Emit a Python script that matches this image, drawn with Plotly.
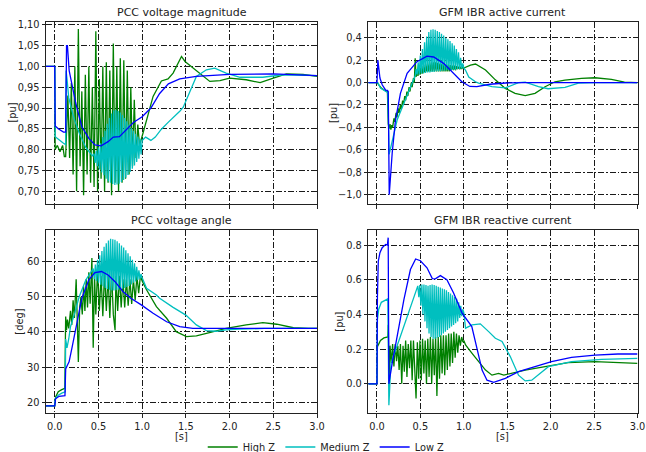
import numpy as np
import plotly.graph_objects as go

# ---------------- data ----------------
LABELS = ["High Z", "Medium Z", "Low Z"]
COLORS = ["#008000", "#00bfbf", "#0000ff"]

# ---- PCC voltage magnitude [pu] ----
vm_green_pre_t = [-0.1, 0.0, 0.005, 0.03, 0.06, 0.09, 0.11, 0.125]
vm_green_pre_v = [1.0, 1.0, 0.80, 0.81, 0.795, 0.81, 0.783, 0.783]
vm_green_osc_span = [0.15, 0.97]
vm_green_osc_v = [0.93, 0.78, 0.96, 0.74, 1.00, 0.70, 1.09, 0.76, 0.94, 0.69, 0.98, 0.74,
                  1.00, 0.72, 0.95, 0.71, 1.085, 0.70, 0.97, 0.73, 1.00, 0.70, 1.01, 0.72,
                  0.99, 0.69, 1.055, 0.72, 1.00, 0.70, 1.02, 0.72, 1.015, 0.73, 0.99, 0.74,
                  0.95, 0.76, 0.92, 0.78, 0.86, 0.81]
vm_green_post_t = [1.01, 1.03, 1.125, 1.22, 1.296, 1.354, 1.45, 1.49, 1.66, 1.774, 1.89,
                   2.0, 2.19, 2.35, 2.5, 2.65, 2.84, 3.0]
vm_green_post_v = [0.84, 0.855, 0.928, 0.965, 0.97, 0.984, 1.024, 1.012, 0.982, 0.964, 0.966,
                   0.972, 0.968, 0.961, 0.972, 0.982, 0.981, 0.976]

vm_cyan_pre_t = [-0.1, 0.0, 0.005, 0.05, 0.1, 0.125, 0.13, 0.14, 0.16, 0.183, 0.22, 0.28, 0.355, 0.43]
vm_cyan_pre_v = [1.0, 1.0, 0.831, 0.823, 0.815, 0.812, 0.99, 0.97, 0.925, 0.905, 0.875, 0.84, 0.805, 0.785]
vm_cyan_osc_span = [0.45, 1.0]
vm_cyan_osc_v = [0.790, 0.768, 0.797, 0.760, 0.805, 0.752, 0.815, 0.745, 0.830, 0.738, 0.845,
                 0.730, 0.862, 0.724, 0.876, 0.720, 0.887, 0.717, 0.894, 0.715, 0.896, 0.716,
                 0.893, 0.718, 0.889, 0.722, 0.883, 0.727, 0.876, 0.732, 0.868, 0.739, 0.860,
                 0.746, 0.852, 0.754, 0.845, 0.762, 0.838, 0.770, 0.831, 0.778, 0.826, 0.788, 0.822]
vm_cyan_post_t = [1.04, 1.1, 1.15, 1.22, 1.3, 1.354, 1.43, 1.47, 1.545, 1.62, 1.735, 1.83,
                  1.96, 2.12, 2.38, 2.61, 3.0]
vm_cyan_post_v = [0.83, 0.822, 0.83, 0.849, 0.866, 0.876, 0.892, 0.902, 0.94, 0.976, 0.992, 0.996,
                  0.984, 0.974, 0.974, 0.98, 0.978]

vm_blue_t = [-0.1, 0.0, 0.005, 0.04, 0.1, 0.125, 0.135, 0.145, 0.165, 0.24, 0.31, 0.39, 0.46,
             0.53, 0.61, 0.67, 0.74, 0.82, 0.9, 1.0, 1.1, 1.2, 1.3, 1.43, 1.62, 2.0, 2.5, 3.0]
vm_blue_v = [1.0, 1.0, 0.857, 0.85, 0.842, 0.842, 1.05, 1.05, 0.99, 0.912, 0.855, 0.827, 0.811,
             0.809, 0.819, 0.83, 0.831, 0.847, 0.865, 0.879, 0.90, 0.935, 0.958, 0.970, 0.976,
             0.981, 0.982, 0.978]

# ---- PCC voltage angle [deg] ----
va_green_pre_t = [-0.1, 0.0, 0.01, 0.04, 0.08, 0.115]
va_green_pre_v = [19.0, 19.0, 21.5, 23.0, 23.6, 24.0]
va_green_osc_t = [0.125, 0.135, 0.145, 0.16, 0.18, 0.195, 0.21, 0.225, 0.245, 0.26, 0.27, 0.285,
                  0.30, 0.315, 0.33, 0.345, 0.36, 0.375, 0.39, 0.405, 0.425, 0.44, 0.455, 0.47,
                  0.49, 0.51, 0.53, 0.55, 0.57, 0.59, 0.61, 0.63, 0.65, 0.67, 0.69, 0.70, 0.72,
                  0.74, 0.76, 0.78, 0.80, 0.82, 0.84, 0.86, 0.88, 0.90, 0.92, 0.94, 0.96, 0.98, 1.0]
va_green_osc_v = [44.4, 40.5, 43.5, 41, 46, 42, 49, 44, 55, 44, 31.5, 47, 50, 45, 53, 46, 55, 47,
                  57, 48, 61, 35.5, 56, 45, 58, 46, 56, 44.5, 57, 46, 56, 44, 57, 45, 40.5, 56, 46,
                  56, 47, 55, 47, 55, 47.5, 55, 48, 55, 49, 56, 51, 56, 54.5]
va_green_post_t = [1.05, 1.163, 1.28, 1.39, 1.506, 1.62, 1.77, 1.96, 2.19, 2.38, 2.54, 2.73, 2.9, 3.0]
va_green_post_v = [52.0, 47.2, 43.9, 40.1, 38.7, 38.9, 39.8, 41.0, 42.0, 42.65, 42.2, 41.2, 41.0, 41.0]

va_cyan_pre_t = [-0.1, 0.0, 0.005, 0.04, 0.08, 0.12, 0.125, 0.14, 0.16, 0.18, 0.23, 0.28, 0.355, 0.42]
va_cyan_pre_v = [19.0, 19.0, 21.0, 22.0, 22.6, 23.0, 38.0, 35.5, 38.0, 41.5, 45.5, 50.0, 54.8, 57.0]
va_cyan_osc_span = [0.44, 1.0]
va_cyan_osc_v = [58.0, 55.0, 59.2, 54.5, 60.5, 54.0, 61.8, 53.4, 63.0, 53.0, 64.2, 52.5, 65.2,
                 52.2, 66.0, 52.0, 66.5, 51.8, 66.4, 51.8, 66.2, 51.9, 65.8, 52.0, 65.2, 52.1,
                 64.6, 52.3, 64.0, 52.5, 63.2, 52.8, 62.4, 53.1, 61.5, 53.5, 60.5, 54.0, 59.5,
                 54.4, 58.5, 54.8, 57.5, 55.1, 56.5, 55.4]
va_cyan_post_t = [1.05, 1.163, 1.2, 1.354, 1.5, 1.62, 1.735, 1.85, 1.96, 2.12, 2.4, 3.0]
va_cyan_post_v = [52.4, 50.5, 49.6, 47.0, 44.8, 42.0, 40.4, 40.2, 40.6, 40.8, 41.0, 41.0]

va_blue_t = [-0.1, 0.0, 0.01, 0.05, 0.117, 0.125, 0.15, 0.164, 0.2, 0.256, 0.31, 0.39, 0.46,
             0.535, 0.61, 0.69, 0.78, 0.87, 0.99, 1.125, 1.28, 1.43, 1.58, 1.8, 2.2, 3.0]
va_blue_v = [19.0, 19.0, 21.0, 21.7, 21.9, 29.5, 30.8, 31.5, 35.8, 43.4, 49.6, 54.8, 56.9, 57.2,
             56.2, 54.3, 51.5, 49.6, 47.7, 45.3, 42.9, 41.5, 41.05, 41.0, 41.0, 41.0]

# ---- GFM IBR active current [pu] ----
ia_green_pre_t = [-0.1, 0.0, 0.01, 0.05, 0.1, 0.12]
ia_green_pre_v = [0.0, 0.0, -0.01, -0.05, -0.075, -0.08]
ia_green_osc_t = [0.13, 0.14, 0.15, 0.16, 0.17, 0.18, 0.195, 0.205, 0.22, 0.23, 0.245, 0.255,
                  0.27, 0.28, 0.295, 0.305, 0.32, 0.33, 0.345, 0.355, 0.37, 0.38, 0.395, 0.405,
                  0.42, 0.43, 0.44, 0.45]
ia_green_osc_v = [-0.37, -0.41, -0.37, -0.42, -0.38, -0.40, -0.32, -0.35, -0.27, -0.31, -0.23,
                  -0.27, -0.20, -0.24, -0.16, -0.20, -0.12, -0.16, -0.08, -0.12, -0.04, -0.08,
                  0.0, -0.04, 0.04, 0.0, 0.216, 0.05]
ia_green_band_span = [0.46, 1.0]
ia_green_band_v = [0.10, 0.06, 0.12, 0.07, 0.14, 0.08, 0.15, 0.09, 0.16, 0.10, 0.17, 0.10, 0.18,
                   0.10, 0.18, 0.10, 0.18, 0.10, 0.18, 0.10, 0.175, 0.10, 0.17, 0.10, 0.17, 0.10,
                   0.165, 0.10, 0.16, 0.10, 0.16, 0.10, 0.155, 0.11, 0.15, 0.11, 0.15, 0.11,
                   0.145, 0.12, 0.14, 0.12, 0.14, 0.12, 0.14, 0.13]
ia_green_post_t = [1.077, 1.134, 1.25, 1.363, 1.478, 1.59, 1.707, 1.82, 1.936, 2.05, 2.165,
                   2.355, 2.51, 2.7, 2.85, 3.0]
ia_green_post_v = [0.156, 0.165, 0.112, 0.024, -0.052, -0.096, -0.117, -0.096, -0.037, 0.007,
                   0.022, 0.038, 0.043, 0.029, 0.003, 0.0]

ia_cyan_pre_t = [-0.1, 0.0, 0.01, 0.04, 0.08, 0.115, 0.125, 0.14, 0.175, 0.232, 0.31, 0.385, 0.44]
ia_cyan_pre_v = [0.0, 0.0, 0.0, -0.05, -0.07, -0.08, -0.09, -0.64, -0.513, -0.334, -0.185, -0.037, 0.06]
ia_cyan_osc_span = [0.45, 1.0]
ia_cyan_osc_v = [0.12, 0.07, 0.18, 0.075, 0.24, 0.08, 0.30, 0.08, 0.36, 0.085, 0.41, 0.09, 0.45,
                 0.09, 0.47, 0.095, 0.475, 0.095, 0.47, 0.10, 0.46, 0.10, 0.45, 0.10, 0.435,
                 0.105, 0.42, 0.105, 0.40, 0.11, 0.385, 0.11, 0.37, 0.11, 0.35, 0.115, 0.33,
                 0.115, 0.30, 0.12, 0.27, 0.12, 0.22, 0.125, 0.17, 0.13]
ia_cyan_post_t = [1.02, 1.057, 1.134, 1.17, 1.324, 1.478, 1.63, 1.707, 1.86, 1.97, 2.165, 2.32, 2.5, 3.0]
ia_cyan_post_v = [0.11, 0.05, 0.007, -0.005, -0.036, -0.048, 0.0, 0.003, -0.036, -0.055, -0.043,
                  -0.005, 0.0, 0.0]

ia_blue_t = [-0.1, 0.0, 0.01, 0.034, 0.06, 0.1, 0.12, 0.13, 0.141, 0.175, 0.213, 0.27, 0.347,
             0.46, 0.576, 0.653, 0.767, 0.88, 0.977, 1.07, 1.15, 1.3, 1.478, 1.7, 2.0, 2.5, 3.0]
ia_blue_v = [0.0, 0.0, 0.2, 0.04, -0.02, -0.067, -0.07, -0.08, -1.0, -0.63, -0.334, -0.096, 0.082,
             0.186, 0.235, 0.228, 0.171, 0.082, 0.007, -0.035, -0.037, -0.015, -0.004, 0.0, 0.0,
             0.0, 0.0]

# ---- GFM IBR reactive current [pu] ----
ir_green_pre_t = [-0.1, 0.0, 0.005, 0.04, 0.08, 0.12]
ir_green_pre_v = [0.0, 0.0, 0.214, 0.25, 0.265, 0.27]
ir_green_osc_t = [0.125, 0.13, 0.14, 0.15, 0.165, 0.18, 0.195, 0.21, 0.225, 0.24, 0.255, 0.27,
                  0.285, 0.30, 0.315, 0.33, 0.345, 0.36, 0.375, 0.39, 0.405, 0.42, 0.435, 0.45,
                  0.465, 0.48, 0.495, 0.51, 0.525, 0.54, 0.555, 0.57, 0.585, 0.60, 0.615, 0.63,
                  0.645, 0.66, 0.675, 0.69, 0.705, 0.72, 0.735, 0.75, 0.765, 0.78, 0.795, 0.81,
                  0.825, 0.84, 0.855, 0.87, 0.885, 0.90, 0.915, 0.93, 0.945, 0.96, 0.975, 0.99, 1.0]
ir_green_osc_v = [0.27, 0.34, 0.02, 0.22, 0.12, 0.23, 0.10, 0.23, 0.13, 0.22, 0.08, 0.23, 0.0,
                  0.22, 0.07, 0.25, 0.04, 0.23, 0.09, 0.25, 0.02, 0.25, 0.05, -0.085, 0.24, 0.03,
                  0.25, 0.02, 0.26, 0.06, 0.25, 0.0, 0.26, 0.04, 0.27, 0.0, 0.26, 0.05, 0.27,
                  -0.07, 0.27, 0.03, 0.28, 0.06, 0.28, 0.05, 0.28, 0.08, 0.29, 0.10, 0.29, 0.12,
                  0.30, 0.15, 0.29, 0.18, 0.28, 0.22, 0.27, 0.24, 0.25]
ir_green_post_t = [1.02, 1.095, 1.17, 1.25, 1.324, 1.4, 1.46, 1.553, 1.707, 1.936, 2.2, 2.51, 2.775, 3.0]
ir_green_post_v = [0.224, 0.176, 0.128, 0.079, 0.05, 0.06, 0.05, 0.06, 0.079, 0.099, 0.122,
                   0.128, 0.122, 0.118]

ir_cyan_pre_t = [-0.1, 0.0, 0.005, 0.02, 0.05, 0.1, 0.125, 0.137, 0.16, 0.255, 0.332, 0.408, 0.465]
ir_cyan_pre_v = [0.0, 0.0, 0.369, 0.43, 0.47, 0.485, 0.49, -0.124, 0.118, 0.253, 0.369, 0.485, 0.559]
ir_cyan_osc_span = [0.47, 1.0]
ir_cyan_osc_v = [0.565, 0.50, 0.57, 0.45, 0.572, 0.40, 0.572, 0.36, 0.57, 0.32, 0.565, 0.29,
                 0.57, 0.27, 0.572, 0.26, 0.57, 0.26, 0.565, 0.265, 0.56, 0.27, 0.555, 0.28,
                 0.55, 0.29, 0.545, 0.30, 0.54, 0.31, 0.53, 0.32, 0.52, 0.33, 0.51, 0.34, 0.50,
                 0.35, 0.49, 0.36, 0.47, 0.38, 0.45, 0.39, 0.43, 0.41]
ir_cyan_post_t = [1.02, 1.095, 1.19, 1.286, 1.363, 1.44, 1.535, 1.63, 1.707, 1.782, 1.88, 1.974,
                  2.24, 2.585, 3.0]
ir_cyan_post_v = [0.321, 0.34, 0.346, 0.301, 0.263, 0.244, 0.157, 0.05, 0.017, 0.021, 0.06,
                  0.099, 0.128, 0.141, 0.147]

ir_blue_t = [-0.1, 0.0, 0.005, 0.015, 0.034, 0.06, 0.1, 0.12, 0.129, 0.137, 0.14, 0.175, 0.232,
             0.31, 0.385, 0.445, 0.5, 0.576, 0.637, 0.672, 0.73, 0.805, 0.882, 0.98, 1.092,
             1.134, 1.21, 1.267, 1.344, 1.478, 1.63, 1.82, 2.01, 2.24, 2.51, 2.775, 3.0]
ir_blue_v = [0.0, 0.0, 0.5, 0.707, 0.756, 0.785, 0.804, 0.8, 0.843, 0.0, 0.012, 0.118, 0.272,
             0.485, 0.659, 0.72, 0.71, 0.669, 0.607, 0.605, 0.624, 0.601, 0.524, 0.408, 0.33,
             0.234, 0.079, 0.021, 0.008, 0.031, 0.07, 0.099, 0.128, 0.153, 0.165, 0.172, 0.172]

X_TICKS = [0.0, 0.5, 1.0, 1.5, 2.0, 2.5, 3.0]
X_TICKTEXT = ["0.0", "0.5", "1.0", "1.5", "2.0", "2.5", "3.0"]
VM_TICKS = [0.70, 0.75, 0.80, 0.85, 0.90, 0.95, 1.00, 1.05, 1.10]
VM_TICKTEXT = ["0,70", "0,75", "0,80", "0,85", "0,90", "0,95", "1,00", "1,05", "1,10"]
IA_TICKS = [-1.0, -0.8, -0.6, -0.4, -0.2, 0.0, 0.2, 0.4]
IA_TICKTEXT = ["\u22121,0", "\u22120,8", "\u22120,6", "\u22120,4", "\u22120,2", "0,0", "0,2", "0,4"]
VA_TICKS = [20, 30, 40, 50, 60]
VA_TICKTEXT = ["20", "30", "40", "50", "60"]
IR_TICKS = [0.0, 0.2, 0.4, 0.6, 0.8]
IR_TICKTEXT = ["0.0", "0.2", "0.4", "0.6", "0.8"]
TITLES = ["PCC voltage magnitude", "GFM IBR active current", "PCC voltage angle", "GFM IBR reactive current"]
YLABELS = ["[pu]", "[pu]", "[deg]", "[pu]"]


def join(*parts):
    t, v = [], []
    for pt, pv in parts:
        t += list(pt)
        v += list(pv)
    return t, v


def sampled(span, vals):
    # uniform sample times for the listed oscillation samples
    return list(np.linspace(span[0], span[1], len(vals))), vals


panels = {
    1: [
        join((vm_green_pre_t, vm_green_pre_v), sampled(vm_green_osc_span, vm_green_osc_v),
             (vm_green_post_t, vm_green_post_v)),
        join((vm_cyan_pre_t, vm_cyan_pre_v), sampled(vm_cyan_osc_span, vm_cyan_osc_v),
             (vm_cyan_post_t, vm_cyan_post_v)),
        (vm_blue_t, vm_blue_v),
    ],
    2: [
        join((ia_green_pre_t, ia_green_pre_v), (ia_green_osc_t, ia_green_osc_v),
             sampled(ia_green_band_span, ia_green_band_v), (ia_green_post_t, ia_green_post_v)),
        join((ia_cyan_pre_t, ia_cyan_pre_v), sampled(ia_cyan_osc_span, ia_cyan_osc_v),
             (ia_cyan_post_t, ia_cyan_post_v)),
        (ia_blue_t, ia_blue_v),
    ],
    3: [
        join((va_green_pre_t, va_green_pre_v), (va_green_osc_t, va_green_osc_v),
             (va_green_post_t, va_green_post_v)),
        join((va_cyan_pre_t, va_cyan_pre_v), sampled(va_cyan_osc_span, va_cyan_osc_v),
             (va_cyan_post_t, va_cyan_post_v)),
        (va_blue_t, va_blue_v),
    ],
    4: [
        join((ir_green_pre_t, ir_green_pre_v), (ir_green_osc_t, ir_green_osc_v),
             (ir_green_post_t, ir_green_post_v)),
        join((ir_cyan_pre_t, ir_cyan_pre_v), sampled(ir_cyan_osc_span, ir_cyan_osc_v),
             (ir_cyan_post_t, ir_cyan_post_v)),
        (ir_blue_t, ir_blue_v),
    ],
}

# ---------------- layout geometry ----------------
W, H = 646, 452
RIGHT_X = [368.3 / W, 637.5 / W]
XDOM = {1: [46 / W, 317 / W], 2: RIGHT_X, 3: [46 / W, 317 / W], 4: RIGHT_X}
TOP = [1 - 204 / H, 1 - 22 / H]
BOT = [1 - 413.3 / H, 1 - 230 / H]
YDOM = {1: TOP, 2: TOP, 3: BOT, 4: BOT}
YRANGE = {1: [0.669, 1.107], 2: [-1.083, 0.54], 3: [16.87, 69.0], 4: [-0.17, 0.887]}
YTICKS = {1: (VM_TICKS, VM_TICKTEXT), 2: (IA_TICKS, IA_TICKTEXT), 3: (VA_TICKS, VA_TICKTEXT),
          4: (IR_TICKS, IR_TICKTEXT)}

FONT = "DejaVu Sans"
INK = "#222222"
TICK_SIZE = 9.8

fig = go.Figure()
for p in (1, 2, 3, 4):
    for i, (t, v) in enumerate(panels[p]):
        fig.add_trace(go.Scatter(
            x=t, y=v, mode="lines", name=LABELS[i],
            line=dict(color=COLORS[i], width=1.3),
            xaxis="x" if p == 1 else f"x{p}", yaxis="y" if p == 1 else f"y{p}",
            showlegend=(p == 1), legendgroup=LABELS[i], hoverinfo="skip"))

axis_common = dict(showline=True, linecolor=INK, linewidth=1, mirror=True,
                   ticks="outside", ticklen=3.5, tickwidth=1, tickcolor=INK,
                   showgrid=True, gridcolor="#1a1a1a", gridwidth=0.9,
                   griddash="6px,2px,1.5px,2px", zeroline=False, automargin=False,
                   ticklabeloverflow="allow",
                   tickfont=dict(family=FONT, size=TICK_SIZE, color=INK))

layout = dict(width=W, height=H, margin=dict(l=0, r=0, t=0, b=0, autoexpand=False),
              paper_bgcolor="white", plot_bgcolor="white",
              font=dict(family=FONT, color=INK),
              showlegend=True,
              legend=dict(orientation="h", x=0.505, xanchor="center", y=1 - 447 / H,
                          yanchor="middle", font=dict(family=FONT, size=9.8, color=INK),
                          bgcolor="rgba(0,0,0,0)", itemwidth=30, tracegroupgap=0))
for p in (1, 2, 3, 4):
    xa = dict(axis_common, domain=XDOM[p], range=[-0.1, 3.0], tickmode="array",
              tickvals=X_TICKS, ticktext=X_TICKTEXT, showticklabels=(p >= 3),
              anchor="y" if p == 1 else f"y{p}")
    ya = dict(axis_common, domain=YDOM[p], range=YRANGE[p], tickmode="array",
              tickvals=YTICKS[p][0], ticktext=YTICKS[p][1],
              anchor="x" if p == 1 else f"x{p}")
    layout["xaxis" if p == 1 else f"xaxis{p}"] = xa
    layout["yaxis" if p == 1 else f"yaxis{p}"] = ya

annotations = []
title_y = {1: 1 - 12 / H, 2: 1 - 12 / H, 3: 1 - 221 / H, 4: 1 - 221 / H}
ylab_x = {1: 11.5 / W, 2: 333 / W, 3: 20 / W, 4: 340 / W}
for p in (1, 2, 3, 4):
    cx = (XDOM[p][0] + XDOM[p][1]) / 2
    annotations.append(dict(text=TITLES[p - 1], x=cx, y=title_y[p], xref="paper", yref="paper",
                            xanchor="center", yanchor="middle", showarrow=False,
                            font=dict(family=FONT, size=11, color=INK)))
    annotations.append(dict(text=YLABELS[p - 1], x=ylab_x[p], y=sum(YDOM[p]) / 2,
                            xref="paper", yref="paper", xanchor="center", yanchor="middle",
                            textangle=-90, showarrow=False,
                            font=dict(family=FONT, size=TICK_SIZE, color=INK)))
for p in (3, 4):
    cx = (XDOM[p][0] + XDOM[p][1]) / 2
    annotations.append(dict(text="[s]", x=cx, y=1 - 436.5 / H, xref="paper", yref="paper",
                            xanchor="center", yanchor="middle", showarrow=False,
                            font=dict(family=FONT, size=TICK_SIZE, color=INK)))
layout["annotations"] = annotations

fig.update_layout(**layout)
fig.write_html("out.html")
